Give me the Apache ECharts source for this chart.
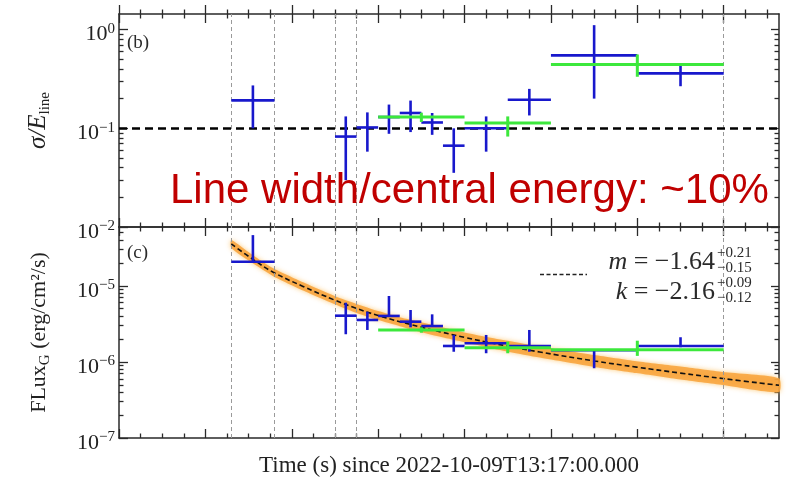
<!DOCTYPE html>
<html><head><meta charset="utf-8">
<script src="https://cdn.jsdelivr.net/npm/echarts@6/dist/echarts.min.js"></script>
<style>html,body{margin:0;padding:0;background:#fff}#c{width:789px;height:483px}</style>
</head><body><div id="c"></div>
<script>
// ---------- data ----------
const xMajorTicks = [200, 300, 400, 500, 600, 700, 800, 900];
const xMinorTicks = [225, 250, 275, 325, 350, 375, 425, 450, 475, 525, 550, 575, 625, 650, 675, 725, 750, 775, 825, 850, 875, 925, 950];
const topMajorTicks = [0.01, 0.1, 1];
const topMinorTicks = [0.02, 0.03, 0.04, 0.05, 0.06, 0.07, 0.08, 0.09, 0.2, 0.3, 0.4, 0.5, 0.6, 0.7, 0.8, 0.9];
const botMajorTicks = [1e-7, 1e-6, 1e-5];
const botMinorTicks = [2e-7, 3e-7, 4e-7, 5e-7, 6e-7, 7e-7, 8e-7, 9e-7, 2e-6, 3e-6, 4e-6, 5e-6, 6e-6, 7e-6, 8e-6, 9e-6, 2e-5, 3e-5, 4e-5, 5e-5];

// vertical dashed markers (time, s)
const vLines = [330, 380, 450, 475, 900];
const refRatio = 0.1;

// sigma/E_line : [tStart, tEnd, value, low, high]
const ratioBlue = [
  [330, 380, 0.192, 0.100, 0.272],
  [450, 475, 0.0825, 0.0298, 0.132],
  [475, 500, 0.102, 0.058, 0.145],
  [500, 525, 0.130, 0.088, 0.174],
  [525, 550, 0.143, 0.0916, 0.191],
  [550, 575, 0.1146, 0.0859, 0.143],
  [575, 600, 0.0667, 0.0354, 0.100],
  [600, 650, 0.100, 0.058, 0.132],
  [650, 700, 0.195, 0.135, 0.251],
  [700, 800, 0.549, 0.200, 1.11],
  [800, 900, 0.360, 0.267, 0.428]
];
const ratioGreen = [
  [500, 600, 0.130, 0.116, 0.144],
  [600, 700, 0.113, 0.0825, 0.132],
  [700, 900, 0.444, 0.333, 0.560]
];

// Flux_G : [tStart, tEnd, value, low, high]
const fluxBlue = [
  [330, 380, 2.07e-5, 2.07e-5, 4.64e-5],
  [450, 475, 4.05e-6, 2.31e-6, 6.0e-6],
  [475, 500, 3.56e-6, 2.63e-6, 4.57e-6],
  [500, 525, 4.02e-6, 4.02e-6, 7.35e-6],
  [525, 550, 3.38e-6, 2.85e-6, 4.81e-6],
  [550, 575, 2.96e-6, 2.96e-6, 4.22e-6],
  [575, 600, 1.62e-6, 1.36e-6, 2.26e-6],
  [600, 650, 1.76e-6, 1.30e-6, 2.26e-6],
  [650, 700, 1.62e-6, 1.36e-6, 2.63e-6],
  [700, 800, 1.42e-6, 8.26e-7, 1.42e-6],
  [800, 900, 1.62e-6, 1.56e-6, 2.11e-6]
];
const fluxGreen = [
  [500, 600, 2.63e-6, 2.42e-6, 2.85e-6],
  [600, 700, 1.54e-6, 1.30e-6, 1.85e-6],
  [700, 900, 1.44e-6, 1.20e-6, 1.90e-6]
];

// fitted decay curve and its band
const fitT     = [330, 355, 378, 413, 450, 475, 500, 525, 550, 573, 600, 625, 650, 687, 750, 799, 850, 899, 964];
const fitMid   = [3.55e-5, 2.23e-5, 1.52e-5, 9.82e-6, 6.47e-6, 5.04e-6, 4.07e-6, 3.38e-6, 2.85e-6, 2.47e-6, 2.10e-6, 1.83e-6, 1.61e-6, 1.35e-6, 1.03e-6, 8.55e-7, 7.13e-7, 6.04e-7, 4.93e-7];
const fitUpper = [4.00e-5, 2.52e-5, 1.71e-5, 1.11e-5, 7.30e-6, 5.78e-6, 4.66e-6, 3.87e-6, 3.31e-6, 2.87e-6, 2.44e-6, 2.13e-6, 1.90e-6, 1.59e-6, 1.23e-6, 1.02e-6, 8.68e-7, 7.35e-7, 6.09e-7];
const fitLower = [3.15e-5, 1.98e-5, 1.35e-5, 8.71e-6, 5.74e-6, 4.40e-6, 3.55e-6, 2.95e-6, 2.45e-6, 2.12e-6, 1.81e-6, 1.57e-6, 1.36e-6, 1.14e-6, 8.60e-7, 7.14e-7, 5.86e-7, 4.96e-7, 3.99e-7];

// ---------- chart ----------
const X_MIN = 200, X_MAX = 964;
const TOP_MIN = 0.01, TOP_MAX = 1.44;
const BOT_MIN = 1e-7, BOT_MAX = 5.93e-5;
const AX = '#2a2a2a';
const SERIF = '"Liberation Serif", "DejaVu Serif", serif';
const BLUE = '#1818cc', GREEN = '#3ce83c';

function xAx(grid, pos, ticks, len, inside, showLine, extra) {
  return Object.assign({
    type: 'value', gridIndex: grid, position: pos, min: X_MIN, max: X_MAX,
    axisLine: {show: showLine, onZero: false, lineStyle: {color: AX, width: 1.5}},
    axisTick: {show: true, inside: inside, length: len, customValues: ticks, lineStyle: {color: AX, width: 1.3}},
    axisLabel: {show: false}, splitLine: {show: false}
  }, extra || {});
}
function yAx(grid, pos, mn, mx, ticks, len, showLine, extra) {
  return Object.assign({
    type: 'log', logBase: 10, gridIndex: grid, position: pos, min: mn, max: mx,
    axisLine: {show: showLine, onZero: false, lineStyle: {color: AX, width: 1.5}},
    axisTick: {show: true, inside: true, length: len, customValues: ticks, lineStyle: {color: AX, width: 1.3}},
    axisLabel: {show: false}, splitLine: {show: false}
  }, extra || {});
}
const supLabel = {
  show: true, margin: 4, padding: [10, 0, 0, 0],
  formatter: v => '{b|10}{s|' + String(Math.round(Math.log10(v))).replace('-', '\u2212') + '}',
  rich: {
    b: {fontFamily: SERIF, fontSize: 22, lineHeight: 26, color: '#222'},
    s: {fontFamily: SERIF, fontSize: 15, lineHeight: 15, verticalAlign: 'top', color: '#222'}
  }
};

const xAxis = [
  xAx(0, 'bottom', xMajorTicks, 9, true, true),
  xAx(0, 'bottom', xMinorTicks, 4.5, true, false),
  xAx(0, 'top', xMajorTicks, 9, true, true),
  xAx(0, 'top', xMinorTicks, 4.5, true, false),
  xAx(0, 'top', xMajorTicks, 9, false, false),
  xAx(0, 'top', xMinorTicks, 4.5, false, false),
  xAx(1, 'bottom', xMajorTicks, 9, true, true, {
    name: 'Time (s) since 2022-10-09T13:17:00.000', nameLocation: 'middle', nameGap: 16,
    nameTextStyle: {fontFamily: SERIF, fontSize: 23, color: '#222'}
  }),
  xAx(1, 'bottom', xMinorTicks, 4.5, true, false),
  xAx(1, 'top', xMajorTicks, 9, true, true),
  xAx(1, 'top', xMinorTicks, 4.5, true, false)
];
const yAxis = [
  yAx(0, 'left', TOP_MIN, TOP_MAX, topMajorTicks, 9, true, {
    axisLabel: Object.assign({customValues: topMajorTicks}, supLabel),
    name: '{i|\u03c3/E}{s|line}', nameLocation: 'middle', nameGap: 66, nameRotate: 90,
    nameTextStyle: {rich: {
      i: {fontFamily: SERIF, fontStyle: 'italic', fontSize: 25, lineHeight: 30, color: '#222'},
      s: {fontFamily: SERIF, fontSize: 15, lineHeight: 16, verticalAlign: 'bottom', color: '#222'}
    }}
  }),
  yAx(0, 'left', TOP_MIN, TOP_MAX, topMinorTicks, 4.5, false),
  yAx(0, 'right', TOP_MIN, TOP_MAX, topMajorTicks, 8, true),
  yAx(0, 'right', TOP_MIN, TOP_MAX, topMinorTicks, 4.5, false),
  yAx(1, 'left', BOT_MIN, BOT_MAX, botMajorTicks, 9, true, {
    axisLabel: Object.assign({customValues: botMajorTicks}, supLabel),
    name: '{a|FLux}{s|G}{a| (erg/cm\u00b2/s)}', nameLocation: 'middle', nameGap: 66, nameRotate: 90,
    nameTextStyle: {rich: {
      a: {fontFamily: SERIF, fontSize: 22, lineHeight: 28, color: '#222'},
      s: {fontFamily: SERIF, fontSize: 15, lineHeight: 16, verticalAlign: 'bottom', color: '#222'}
    }}
  }),
  yAx(1, 'left', BOT_MIN, BOT_MAX, botMinorTicks, 4.5, false),
  yAx(1, 'right', BOT_MIN, BOT_MAX, botMajorTicks, 8, true),
  yAx(1, 'right', BOT_MIN, BOT_MAX, botMinorTicks, 4.5, false)
];

function errSeries(data, color, width, xi, yi, z) {
  return {
    type: 'custom', xAxisIndex: xi, yAxisIndex: yi, z: z, silent: true,
    encode: {x: [0, 1], y: [2, 3, 4]},
    data: data,
    renderItem: function (params, api) {
      const t0 = api.value(0), t1 = api.value(1), v = api.value(2), lo = api.value(3), hi = api.value(4);
      const tc = (t0 + t1) / 2;
      const a = api.coord([t0, v]), b = api.coord([t1, v]);
      const c = api.coord([tc, hi]), d = api.coord([tc, lo]);
      const st = {stroke: color, lineWidth: width, lineCap: 'butt'};
      return {type: 'group', children: [
        {type: 'line', shape: {x1: a[0], y1: a[1], x2: b[0], y2: b[1]}, style: st},
        {type: 'line', shape: {x1: c[0], y1: c[1], x2: d[0], y2: d[1]}, style: st}
      ]};
    }
  };
}

const vMark = {
  silent: true, symbol: ['none', 'none'], label: {show: false}, animation: false,
  lineStyle: {color: '#9a9a9a', width: 1, type: [4, 3]},
  data: vLines.map(v => ({xAxis: v}))
};

const series = [
  {type: 'line', xAxisIndex: 0, yAxisIndex: 0, data: [], z: 1, markLine: vMark},
  {type: 'line', xAxisIndex: 6, yAxisIndex: 4, data: [], z: 1, markLine: vMark},
  {type: 'line', xAxisIndex: 0, yAxisIndex: 0, data: [], z: 2, markLine: {
    silent: true, symbol: ['none', 'none'], label: {show: false}, animation: false,
    lineStyle: {color: '#000', width: 2.6, type: [8, 5]},
    data: [{yAxis: refRatio}]
  }},
  {
    type: 'custom', xAxisIndex: 6, yAxisIndex: 4, z: 2, silent: true,
    encode: {x: 0, y: 1},
    data: [[fitT[0], fitMid[0]]],
    renderItem: function (params, api) {
      const pts = [];
      for (let i = 0; i < fitT.length; i++) pts.push(api.coord([fitT[i], fitUpper[i]]));
      for (let i = fitT.length - 1; i >= 0; i--) pts.push(api.coord([fitT[i], fitLower[i]]));
      return {type: 'polygon', shape: {points: pts, smooth: 0.2},
        style: {fill: 'rgba(248,162,58,0.85)', shadowBlur: 5, shadowColor: 'rgba(252,190,90,0.9)'}};
    }
  },
  {type: 'line', xAxisIndex: 6, yAxisIndex: 4, z: 3, smooth: 0.4, showSymbol: false, silent: true,
    data: fitT.map((t, i) => [t, fitMid[i]]),
    lineStyle: {color: '#111', width: 1.6, type: [5, 3]}},
  errSeries(ratioBlue, BLUE, 2.6, 0, 0, 5),
  errSeries(ratioGreen, GREEN, 3, 0, 0, 6),
  errSeries(fluxBlue, BLUE, 2.6, 6, 4, 5),
  errSeries(fluxGreen, GREEN, 3, 6, 4, 6)
];

const txt = '#2a2a2a';
const graphic = [
  {type: 'text', x: 127, y: 43, z: 50, style: {text: '(b)', fontFamily: SERIF, fontSize: 19, fill: txt, align: 'left', verticalAlign: 'middle'}},
  {type: 'text', x: 127, y: 253, z: 50, style: {text: '(c)', fontFamily: SERIF, fontSize: 19, fill: txt, align: 'left', verticalAlign: 'middle'}},
  {type: 'line', z: 50, shape: {x1: 540, y1: 274.5, x2: 587, y2: 274.5}, style: {stroke: '#222', lineWidth: 1.3, lineDash: [4, 2.5]}},
  {type: 'text', x: 715, y: 262, z: 50, style: {text: '{i|m} = \u22121.64', rich: {i: {fontStyle: 'italic', fontFamily: SERIF, fontSize: 26}}, fontFamily: SERIF, fontSize: 26, fill: txt, align: 'right', verticalAlign: 'middle'}},
  {type: 'text', x: 717, y: 253, z: 50, style: {text: '+0.21', fontFamily: SERIF, fontSize: 15, fill: txt, align: 'left', verticalAlign: 'middle'}},
  {type: 'text', x: 717, y: 268.5, z: 50, style: {text: '\u22120.15', fontFamily: SERIF, fontSize: 15, fill: txt, align: 'left', verticalAlign: 'middle'}},
  {type: 'text', x: 715, y: 292, z: 50, style: {text: '{i|k} = \u22122.16', rich: {i: {fontStyle: 'italic', fontFamily: SERIF, fontSize: 26}}, fontFamily: SERIF, fontSize: 26, fill: txt, align: 'right', verticalAlign: 'middle'}},
  {type: 'text', x: 717, y: 283, z: 50, style: {text: '+0.09', fontFamily: SERIF, fontSize: 15, fill: txt, align: 'left', verticalAlign: 'middle'}},
  {type: 'text', x: 717, y: 298.5, z: 50, style: {text: '\u22120.12', fontFamily: SERIF, fontSize: 15, fill: txt, align: 'left', verticalAlign: 'middle'}},
  {type: 'text', x: 170, y: 191, z: 60, style: {text: 'Line width/central energy: ~10%', fontFamily: '"Liberation Sans", Arial, sans-serif', fontSize: 42, fill: '#c00000', align: 'left', verticalAlign: 'middle'}}
];

const chart = echarts.init(document.getElementById('c'), null, {renderer: 'canvas'});
chart.setOption({
  animation: false,
  backgroundColor: '#fff',
  grid: [
    {left: 119, right: 10, top: 14, height: 213},
    {left: 119, right: 10, top: 227, height: 211}
  ],
  xAxis: xAxis,
  yAxis: yAxis,
  series: series,
  graphic: graphic
});
</script>
</body></html>
